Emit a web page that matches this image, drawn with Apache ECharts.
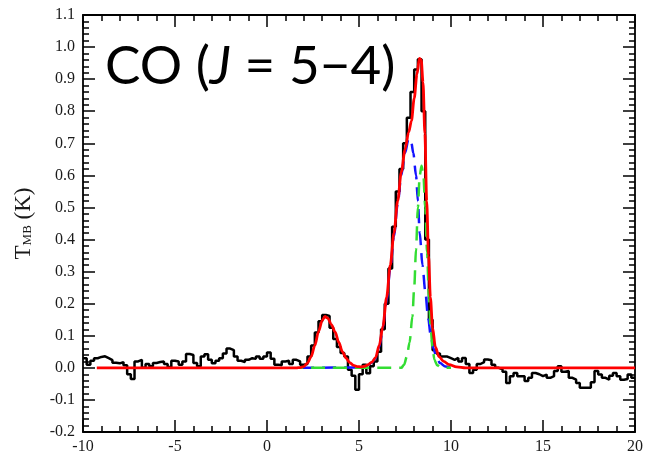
<!DOCTYPE html>
<html>
<head>
<meta charset="utf-8">
<script src="https://cdn.jsdelivr.net/npm/echarts@6/dist/echarts.min.js"></script>
<style>
  html, body { margin: 0; padding: 0; background: #fff; }
  #chart { width: 646px; height: 456px; }
</style>
</head>
<body>
<div id="chart"></div>
<script>
// Observed spectrum: channel width 0.2 km/s, first channel starts at -10
const chanStart = -10;
const chanWidth = 0.2;
const observedT = [
  0.030, 0.010, 0.022, 0.030, 0.034, 0.036, 0.030, 0.024, 0.016, 0.014,
  0.018, 0.008, -0.020, -0.035, 0.020, 0.025, 0.000, 0.012, 0.005, 0.015,
  0.018, 0.020, 0.012, 0.003, 0.022, 0.020, 0.010, 0.020, 0.043, 0.040,
  0.015, 0.005, 0.035, 0.042, 0.025, 0.014, 0.022, 0.030, 0.045, 0.060,
  0.055, 0.035, 0.022, 0.018, 0.025, 0.030, 0.028, 0.035, 0.028, 0.035,
  0.048, 0.028, 0.010, 0.008, 0.020, 0.022, 0.012, 0.025, 0.020, 0.010,
  0.012, 0.035, 0.070, 0.110, 0.145, 0.165, 0.162, 0.125, 0.090, 0.065,
  0.046, 0.035, -0.006, -0.025, -0.068, -0.020, 0.010, -0.017, 0.005, 0.020,
  0.050, 0.120, 0.200, 0.310, 0.440, 0.550, 0.620, 0.700, 0.780, 0.860,
  0.930, 0.962, 0.800, 0.400, 0.150, 0.055, 0.045, 0.035, 0.035, 0.030,
  0.025, 0.031, 0.020, 0.031, 0.012, -0.016, -0.006, 0.012, 0.018, 0.026,
  0.024, 0.010, 0.000, -0.005, -0.012, -0.047, -0.026, -0.016, -0.026, -0.026,
  -0.041, -0.031, -0.016, -0.020, -0.026, -0.021, -0.031, -0.026, -0.010, 0.005,
  -0.012, -0.010, -0.031, -0.037, -0.047, -0.062, -0.062, -0.062, -0.045, -0.010,
  -0.021, -0.031, -0.037, -0.025, -0.016, -0.026, -0.037, -0.035, -0.021, -0.031
];

// Total fit (red)
const fitV = [-9.25, 1.6, 1.8, 2.0, 2.2, 2.4, 2.6, 2.8, 3.0, 3.15, 3.3, 3.5, 3.7, 3.9, 4.1, 4.3, 4.5, 4.7, 4.9, 5.1, 5.3, 5.5, 5.7, 5.9, 6.1, 6.3, 6.5, 6.7, 6.9, 7.1, 7.3, 7.5, 7.7, 7.85, 8.0, 8.15, 8.28, 8.38, 8.48, 8.58, 8.68, 8.78, 8.88, 9.0, 9.15, 9.35, 9.6, 9.9, 10.3, 10.8, 20];
const fitT = [0, 0, 0.001, 0.004, 0.015, 0.035, 0.07, 0.113, 0.148, 0.16, 0.155, 0.135, 0.112, 0.08, 0.05, 0.03, 0.016, 0.008, 0.004, 0.003, 0.005, 0.01, 0.018, 0.032, 0.07, 0.13, 0.22, 0.32, 0.42, 0.52, 0.61, 0.68, 0.735, 0.77, 0.84, 0.915, 0.965, 0.96, 0.89, 0.73, 0.52, 0.35, 0.22, 0.125, 0.065, 0.035, 0.02, 0.01, 0.003, 0, 0];

// Broad component (blue dashed)
const broadV = [1.8, 5.0, 5.3, 5.5, 5.7, 5.9, 6.1, 6.3, 6.5, 6.7, 6.9, 7.1, 7.3, 7.5, 7.7, 7.85, 7.95, 8.1, 8.2, 8.3, 8.45, 8.6, 8.75, 8.9, 9.05, 9.2, 9.4, 9.7, 10.0];
const broadT = [0, 0.001, 0.004, 0.009, 0.017, 0.03, 0.065, 0.125, 0.21, 0.31, 0.41, 0.51, 0.6, 0.67, 0.715, 0.7, 0.67, 0.6, 0.52, 0.42, 0.32, 0.24, 0.16, 0.1, 0.06, 0.035, 0.015, 0.004, 0];

// Narrow component (green dashed)
const narrowV = [1.8, 7.3, 7.45, 7.6, 7.75, 7.9, 8.0, 8.1, 8.2, 8.3, 8.4, 8.5, 8.6, 8.7, 8.8, 8.9, 9.0, 9.1, 9.25, 9.5, 10.0];
const narrowT = [0, 0, 0.01, 0.035, 0.08, 0.16, 0.25, 0.37, 0.5, 0.6, 0.63, 0.6, 0.5, 0.36, 0.22, 0.12, 0.06, 0.025, 0.008, 0, 0];

const xTicks = { min: -10, max: 20, step: 5 };
const yTicks = { min: -0.2, max: 1.1, step: 0.1 };

const pairs = (xs, ys) => xs.map((x, i) => [x, ys[i]]);
const observed = observedT.map((t, i) => [chanStart + chanWidth * (i + 0.5), t]);
// extend the histogram to the outer channel edges
observed.unshift([chanStart, observedT[0]]);
observed.push([chanStart + chanWidth * observedT.length, observedT[observedT.length - 1]]);

const serif = 'Liberation Serif, Times New Roman, serif';
const axisLine = { show: true, onZero: false, lineStyle: { color: '#000', width: 1.8 } };
const tickStyle = { color: '#000', width: 1.5 };

function xAxisDef(pos, labels) {
  return {
    type: 'value', position: pos, min: xTicks.min, max: xTicks.max, interval: xTicks.step,
    axisLine: axisLine,
    axisTick: { show: true, inside: true, length: 12, lineStyle: tickStyle },
    minorTick: { show: true, splitNumber: 5, length: 6, lineStyle: tickStyle },
    splitLine: { show: false },
    axisLabel: { show: labels, color: '#1a1a1a', fontFamily: serif, fontSize: 16, margin: 7 }
  };
}
function yAxisDef(pos, labels) {
  return {
    type: 'value', position: pos, min: yTicks.min, max: yTicks.max, interval: yTicks.step,
    axisLine: axisLine,
    axisTick: { show: true, inside: true, length: 12, lineStyle: tickStyle },
    minorTick: { show: true, splitNumber: 5, length: 6, lineStyle: tickStyle },
    splitLine: { show: false },
    axisLabel: {
      show: labels, color: '#1a1a1a', fontFamily: serif, fontSize: 16, margin: 8,
      formatter: v => v.toFixed(1)
    }
  };
}

const yLeft = yAxisDef('left', true);
yLeft.name = '{t|T}{s|MB}{t| (K)}';
yLeft.nameLocation = 'middle';
yLeft.nameGap = 48;
yLeft.nameRotate = 90;
yLeft.nameTextStyle = {
  rich: {
    t: { fontFamily: serif, fontSize: 23, color: '#1a1a1a' },
    s: { fontFamily: serif, fontSize: 13, color: '#1a1a1a', padding: [9, 0, 0, 0] }
  }
};

const chart = echarts.init(document.getElementById('chart'), null, { renderer: 'canvas' });
chart.setOption({
  animation: false,
  backgroundColor: '#fff',
  grid: { left: 83, right: 8, top: 15, bottom: 24 },
  xAxis: [xAxisDef('bottom', true), xAxisDef('top', false)],
  yAxis: [yLeft, yAxisDef('right', false)],
  series: [
    {
      type: 'line', data: observed, step: 'middle', showSymbol: false,
      lineStyle: { color: '#000', width: 2.5 }, z: 2
    },
    {
      type: 'line', data: pairs(broadV, broadT), smooth: 0.3, smoothMonotone: 'x', showSymbol: false,
      lineStyle: { color: '#1414ff', width: 2.5, type: [14, 8] }, z: 3
    },
    {
      type: 'line', data: pairs(narrowV, narrowT), smooth: 0.3, smoothMonotone: 'x', showSymbol: false,
      lineStyle: { color: '#33dd33', width: 2.5, type: [14, 8], dashOffset: 11 }, z: 3
    },
    {
      type: 'line', data: pairs(fitV, fitT), smooth: 0.3, smoothMonotone: 'x', showSymbol: false,
      lineStyle: { color: '#ff0000', width: 2.8 }, z: 4
    }
  ],
  graphic: [{
    type: 'text', left: 105, top: 40, z: 10,
    style: {
      text: '{n|CO (}{i|J}{n| = 5\u22124)}',
      rich: {
        n: { fontFamily: 'Lato, Noto Sans, sans-serif', fontSize: 53, fill: '#000' },
        i: { fontFamily: 'Lato, Noto Sans, sans-serif', fontSize: 53, fontStyle: 'italic', fill: '#000' }
      }
    }
  }]
});
</script>
</body>
</html>
